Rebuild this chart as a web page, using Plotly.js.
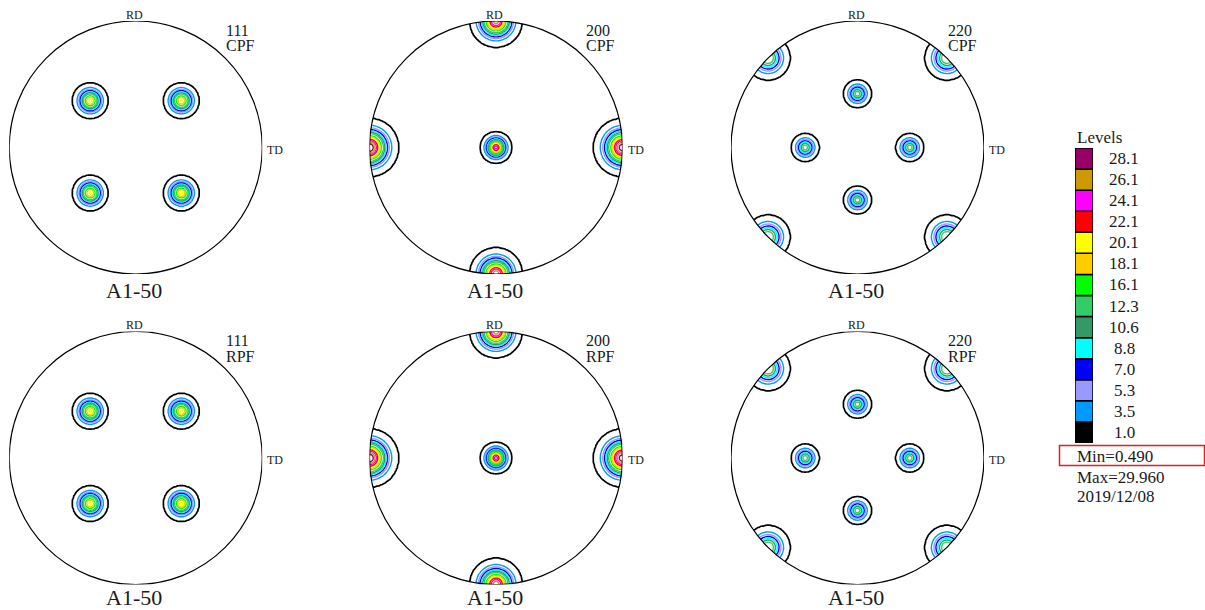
<!DOCTYPE html>
<html><head><meta charset="utf-8">
<script src="https://cdn.plot.ly/plotly-3.0.1.min.js"></script>
<style>html,body{margin:0;padding:0;background:#fff}</style>
</head><body><div id="chart" style="width:1205px;height:610px"></div>
<script>
// ---- data ----
const levelValues = [1.0, 3.5, 5.3, 7.0, 8.8, 10.6, 12.3, 16.1, 18.1, 20.1, 22.1, 24.1, 26.1, 28.1];
const levelLabels = ['1.0','3.5','5.3','7.0','8.8','10.6','12.3','16.1','18.1','20.1','22.1','24.1','26.1','28.1'];
const levelColors = ['#000000','#0099ff','#9999ff','#0000ff','#00ffff','#339966','#33cc66','#00ff00','#ffcc00','#ffff00','#ff0000','#ff00ff','#cc9900','#990066'];
const minValue = 0.490;
const maxValue = 29.960;
const dateLabel = '2019/12/08';
const legendTitle = 'Levels';
const figureNames = ['111', '200', '220'];
const rowTypes = ['CPF', 'RPF'];
const sampleLabel = 'A1-50';
const rdLabel = 'RD';
const tdLabel = 'TD';

// pole positions (stereographic, unit circle), peak intensity, spread
const poles111X = [-0.36, 0.36, -0.36, 0.36];
const poles111Y = [0.37, 0.37, -0.36, -0.36];
const poles111Peak = [20.6, 20.4, 20.5, 20.6];
const poles111Width = [0.075, 0.075, 0.075, 0.075];

const poles200X = [0, 0, 0, -1, 1];
const poles200Y = [0, 1, -1, 0, 0];
const poles200Peak = [25.0, 27.0, 27.5, 29.96, 29.5];
const poles200Width = [0.065, 0.106, 0.106, 0.116, 0.116];

const poles220X = [0, 0, -0.413, 0.413, -0.707, 0.707, -0.707, 0.707];
const poles220Y = [0.425, -0.415, 0, 0, 0.707, 0.707, -0.707, -0.707];
const poles220Peak = [13.5, 13.5, 13.5, 13.5, 15.0, 15.0, 15.0, 15.0];
const poles220Width = [0.063, 0.063, 0.063, 0.063, 0.097, 0.097, 0.097, 0.097];

const poleSets = [
  {x: poles111X, y: poles111Y, peak: poles111Peak, w: poles111Width},
  {x: poles200X, y: poles200Y, peak: poles200Peak, w: poles200Width},
  {x: poles220X, y: poles220Y, peak: poles220Peak, w: poles220Width}
];

// ---- layout geometry (pixels) ----
const W = 1205, H = 610;
const colCx = [135.75, 496, 857.5];
const rowCy = [147.5, 458];
const R = 126.5;
const FONT = 'Liberation Serif, Times New Roman, serif';
const px = v => v / W;
const py = v => 1 - v / H;

// grid
const N = 201;
const grid = [];
for (let i = 0; i < N; i++) grid.push(-1 + 2 * i / (N - 1));

function toLevelIndex(v) {
  const L = levelValues, n = L.length;
  if (v <= L[0]) return (v - L[0]) / (L[0] - minValue);
  for (let k = 0; k < n - 1; k++) {
    if (v <= L[k + 1]) return k + (v - L[k]) / (L[k + 1] - L[k]);
  }
  return n - 1 + (v - L[n - 1]) / 2;
}

function field(set) {
  const z = [];
  for (let j = 0; j < N; j++) {
    const row = [];
    const yy = grid[j];
    for (let i = 0; i < N; i++) {
      const xx = grid[i];
      let v = minValue;
      for (let p = 0; p < set.x.length; p++) {
        const dx = xx - set.x[p], dy = yy - set.y[p];
        v += (set.peak[p] - minValue) * Math.exp(-(dx * dx + dy * dy) / (set.w[p] * set.w[p]));
      }
      row.push(toLevelIndex(v));
    }
    z.push(row);
  }
  return z;
}

// circle mask path
let circ = '';
const NS = 240;
for (let k = 0; k <= NS; k++) {
  const a = 2 * Math.PI * k / NS;
  circ += (k === 0 ? 'M' : 'L') + Math.cos(a).toFixed(5) + ',' + Math.sin(a).toFixed(5);
}
circ += 'Z';
const maskPath = 'M-1.02,-1.02L1.02,-1.02L1.02,1.02L-1.02,1.02Z' + circ;

const traces = [];
const layout = {
  width: W, height: H,
  margin: {l: 0, r: 0, t: 0, b: 0},
  paper_bgcolor: '#fff', plot_bgcolor: 'rgba(0,0,0,0)',
  showlegend: false,
  font: {family: FONT, color: '#1a1a1a'},
  shapes: [], annotations: []
};

const colorScale = levelColors.slice(1).map((c, i) => [i / (levelColors.length - 2), c]);

let idx = 0;
for (let r = 0; r < rowTypes.length; r++) {
  for (let c = 0; c < figureNames.length; c++) {
    idx++;
    const xa = 'x' + idx, ya = 'y' + idx;
    const cx = colCx[c], cy = rowCy[r];
    layout['xaxis' + idx] = {domain: [px(cx - R), px(cx + R)], range: [-1, 1], visible: false, fixedrange: true};
    layout['yaxis' + idx] = {domain: [py(cy + R), py(cy - R)], range: [-1, 1], visible: false, fixedrange: true};
    const z = field(poleSets[c]);
    traces.push({
      type: 'contour', x: grid, y: grid, z: z, xaxis: xa, yaxis: ya,
      autocontour: false,
      contours: {start: 1, end: levelValues.length - 1, size: 1, coloring: 'lines'},
      colorscale: colorScale, showscale: false,
      line: {width: 1.4, smoothing: 0.6}, hoverinfo: 'skip'
    });
    traces.push({
      type: 'contour', x: grid, y: grid, z: z, xaxis: xa, yaxis: ya,
      autocontour: false,
      contours: {start: 0, end: 0.5, size: 1, coloring: 'none'},
      showscale: false,
      line: {width: 1.7, color: '#000', smoothing: 0.6}, hoverinfo: 'skip'
    });
    layout.shapes.push({type: 'path', xref: xa, yref: ya, path: maskPath, fillcolor: '#fff', fillrule: 'evenodd', line: {width: 0}, layer: 'above'});
    layout.shapes.push({type: 'circle', xref: xa, yref: ya, x0: -1, x1: 1, y0: -1, y1: 1, line: {color: '#000', width: 1.2}, layer: 'above'});
    const ann = (text, x, y, size, xanchor) => layout.annotations.push({
      text: text, x: px(x), y: py(y), xref: 'paper', yref: 'paper', showarrow: false,
      xanchor: xanchor, yanchor: 'middle', font: {family: FONT, size: size, color: '#1a1a1a'}
    });
    ann(rdLabel, cx - 1.5, cy - R - 6.5, 12, 'center');
    ann(tdLabel, cx + R + 3, cy + 2, 12, 'left');
    ann(figureNames[c], cx + 88, cy - 117.5, 16, 'left');
    ann(rowTypes[r], cx + 88, cy - 101.5, 16, 'left');
    ann(sampleLabel, cx - 1.5, Math.min(cy + 142.5, H - 13), 22, 'center');
  }
}

// legend as stacked boxes
idx++;
layout['xaxis' + idx] = {domain: [px(1075), px(1093)], range: [-0.5, 0.5], visible: false, fixedrange: true};
layout['yaxis' + idx] = {domain: [py(443), py(148)], range: [0, levelValues.length], visible: false, fixedrange: true};
traces.push({
  type: 'bar', xaxis: 'x' + idx, yaxis: 'y' + idx,
  x: levelValues.map(() => 0), y: levelValues.map(() => 1), base: levelValues.map((v, i) => i),
  width: 1, marker: {color: levelColors, line: {color: '#000', width: 1.5}}, hoverinfo: 'skip'
});
levelLabels.forEach((t, i) => layout.annotations.push({
  text: t, x: px(1124), y: i + 0.5, xref: 'paper', yref: 'y' + idx, showarrow: false,
  xanchor: 'center', yanchor: 'middle', font: {family: FONT, size: 17, color: '#1a1a1a'}
}));
const legAnn = (text, y) => layout.annotations.push({
  text: text, x: px(1075), y: py(y), xref: 'paper', yref: 'paper', showarrow: false,
  xanchor: 'left', yanchor: 'middle', font: {family: FONT, size: 17, color: '#1a1a1a'}
});
legAnn(legendTitle, 138);
legAnn('Min=' + minValue.toFixed(3), 456);
legAnn('Max=' + maxValue.toFixed(3), 477);
legAnn(dateLabel, 496);
layout.shapes.push({type: 'rect', xref: 'paper', yref: 'paper', x0: px(1059.5), x1: px(1204.5), y0: py(465.5), y1: py(445.5), line: {color: '#e02020', width: 1.5}, fillcolor: 'rgba(0,0,0,0)'});

Plotly.newPlot('chart', traces, layout, {staticPlot: true, displayModeBar: false});
</script>
</body></html>
